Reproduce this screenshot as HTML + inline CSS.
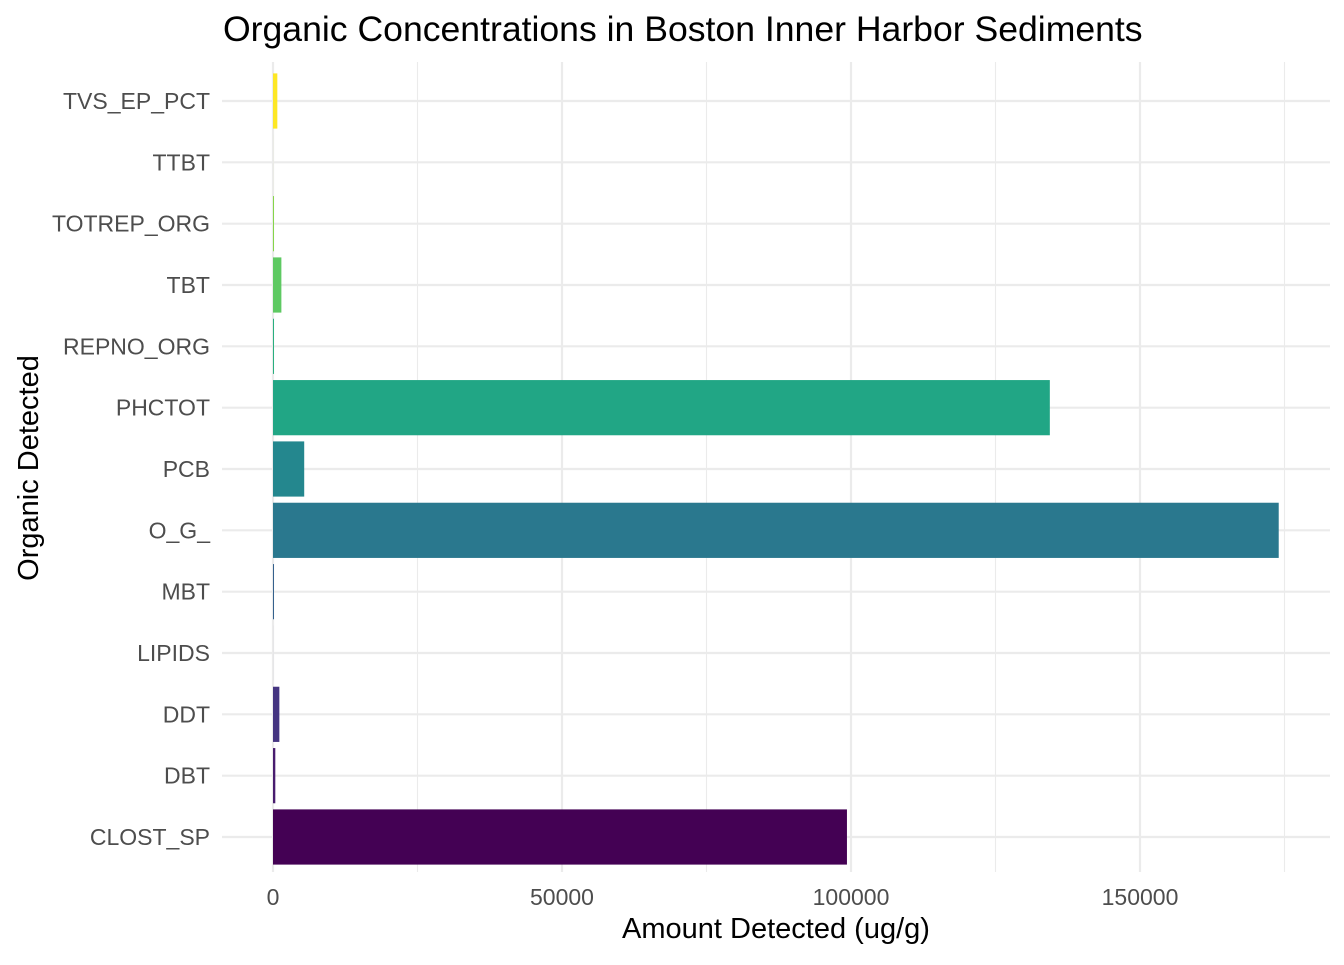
<!DOCTYPE html>
<html><head><meta charset="utf-8"><style>
body{margin:0;background:#fff;font-family:"Liberation Sans",sans-serif;}
svg text{font-family:"Liberation Sans",sans-serif;}
</style></head><body>
<svg id="chart" width="1344" height="960">
<rect width="1344" height="960" fill="#fff"/>
<text x="223" y="41" font-size="35.6" fill="#000">Organic Concentrations in Boston Inner Harbor Sediments</text>
<g id="grid"></g><g id="bars"></g><g id="axes"></g>
<text x="776" y="938" font-size="29" text-anchor="middle" fill="#000">Amount Detected (ug/g)</text>
<text transform="translate(38,468) rotate(-90)" font-size="29" text-anchor="middle" fill="#000">Organic Detected</text>
</svg>
<script>
const categories=["CLOST_SP","DBT","DDT","LIPIDS","MBT","O_G_","PCB","PHCTOT","REPNO_ORG","TBT","TOTREP_ORG","TTBT","TVS_EP_PCT"];
const values=[99300,400,1100,5,150,174000,5400,134400,150,1450,150,5,750];
const colors=["#440154","#481c6e","#453581","#3d4d8a","#34618d","#2a788e","#24878e","#21a685","#29af7f","#5ec962","#86d549","#c2df23","#fde725"];
const xTicks=[0,50000,100000,150000];
const NS="http://www.w3.org/2000/svg";
const x0=273, pxPer=289/50000, plotLeft=222, plotRight=1330, plotTop=62, plotBottom=872;
const X=v=>x0+v*pxPer;
const step=(837-101)/12;
const Y=i=>837-i*step;
const grid=document.getElementById('grid'),bars=document.getElementById('bars'),axes=document.getElementById('axes');
function mk(tag,attrs,parent){const e=document.createElementNS(NS,tag);for(const k in attrs)e.setAttribute(k,attrs[k]);parent.appendChild(e);return e;}
for(let i=0;i<xTicks.length;i++){
 const t=xTicks[i];
 const l=mk('line',{x1:X(t),x2:X(t),y1:plotTop,y2:plotBottom,stroke:'#ebebeb','stroke-width':2.2},grid);
 
 
 const m=mk('line',{x1:X(t+25000),x2:X(t+25000),y1:plotTop,y2:plotBottom,stroke:'#ebebeb','stroke-width':1.1},grid);
 
 
 const tx=mk('text',{x:X(t),y:905,'font-size':23,fill:'#4d4d4d','text-anchor':'middle'},axes);
 tx.textContent=String(t);
 
 
}
categories.forEach((c,i)=>{
 const y=Y(i);
 const g=mk('line',{x1:plotLeft,x2:plotRight,y1:y,y2:y,stroke:'#ebebeb','stroke-width':2.2},grid);
 
 
 const h=step*0.9;
 const w=X(values[i])-X(0);
 const r=mk('rect',{x:X(0),y:y-h/2,width:values[i]>=100?Math.max(w,1):w,height:h,fill:colors[i]},bars);
 
 
 const tx=mk('text',{x:210,y:y+8,'font-size':23,fill:'#4d4d4d','text-anchor':'end'},axes);
 tx.textContent=c;
 
 
});
</script>
</body></html>
